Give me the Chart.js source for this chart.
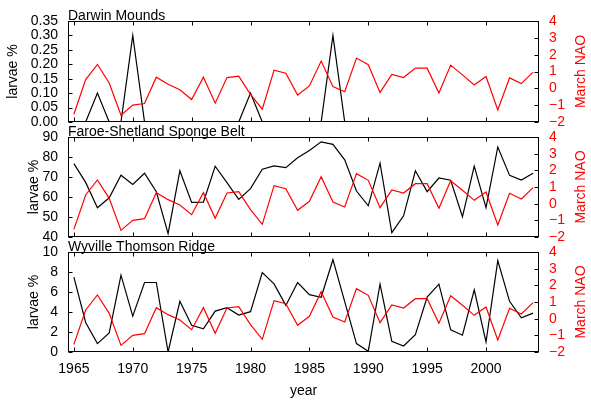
<!DOCTYPE html>
<html>
<head>
<meta charset="utf-8">
<title>Larvae vs March NAO</title>
<script src="https://cdn.jsdelivr.net/npm/chart.js@4.4.0/dist/chart.umd.min.js"></script>
<style>
  html, body { margin: 0; padding: 0; background: #ffffff; }
  #wrap { position: relative; width: 591px; height: 403px; }
  #wrap canvas { position: absolute; left: 0; top: 0; }
</style>
</head>
<body>
<div id="wrap">
  <canvas id="darwinChart" width="591" height="403"></canvas>
  <canvas id="faroeChart" width="591" height="403"></canvas>
  <canvas id="wyvilleChart" width="591" height="403"></canvas>
</div>
<script>
"use strict";

// Data
const years = [
  1965, 1966, 1967, 1968, 1969, 1970, 1971, 1972, 1973, 1974,
  1975, 1976, 1977, 1978, 1979, 1980, 1981, 1982, 1983, 1984,
  1985, 1986, 1987, 1988, 1989, 1990, 1991, 1992, 1993, 1994,
  1995, 1996, 1997, 1998, 1999, 2000, 2001, 2002, 2003, 2004,
];

const marchNao = [
  -1.54, 0.52, 1.42, 0.32, -1.6, -1.0, -0.9, 0.66, 0.24, -0.08,
  -0.66, 0.66, -0.88, 0.64, 0.72, -0.36, -1.24, 1.08, 0.9, -0.4,
  0.14, 1.62, 0.1, -0.2, 1.8, 1.4, -0.24, 0.82, 0.64, 1.2,
  1.2, -0.28, 1.38, 0.8, 0.2, 0.7, -1.28, 0.62, 0.28, 0.96,
];

const darwinMounds = [
  0, 0, 0.1, 0, 0, 0.3, 0, 0, 0, 0,
  0, 0, 0, 0, 0, 0.1, 0, 0, 0, 0,
  0, 0, 0.3, 0, 0, 0, 0, 0, 0, 0,
  0, 0, 0, 0, 0, 0, 0, 0, 0, 0,
];

const faroeShetland = [
  76.7, 67.3, 54.6, 59.6, 70.9, 66.3, 71.9, 62.6, 41.7, 73.1,
  57.3, 57.4, 75.4, 67.2, 58.8, 64.2, 73.9, 75.6, 74.7, 79.6,
  83.3, 87.6, 86.3, 78.6, 63.0, 55.6, 76.9, 42.2, 50.6, 73.1,
  62.7, 69.5, 68.4, 50.1, 75.4, 54.7, 85.0, 70.8, 68.5, 71.9,
];

const wyvilleThomson = [
  7.48, 2.95, 0.84, 1.91, 7.68, 3.59, 6.95, 6.95, 0, 5.07,
  2.68, 2.32, 4.09, 4.43, 3.69, 4.03, 7.95, 6.81, 4.66, 6.95,
  5.74, 5.47, 9.23, 5.03, 0.84, 0.07, 6.78, 1.07, 0.6, 1.74,
  5.5, 6.78, 2.21, 1.68, 6.21, 1.0, 9.13, 5.07, 3.42, 3.89,
];

const yearTicks = [1965, 1970, 1975, 1980, 1985, 1990, 1995, 2000];
const naoTicks = [-2, -1, 0, 1, 2, 3, 4];
const darwinTicks = [0, 0.05, 0.1, 0.15, 0.2, 0.25, 0.3, 0.35];
const faroeTicks = [40, 50, 60, 70, 80, 90];
const wyvilleTicks = [0, 2, 4, 6, 8, 10];

const RED = "#ff0000";
const FONT = "'Liberation Sans', Arial, sans-serif";
const W = 591;
const H = 403;

Chart.defaults.font.family = FONT;
Chart.defaults.color = "#000000";

// box, inward ticks and the text MATLAB puts around each axes
const framePlugin = {
  id: "frame",
  afterDraw(chart, args, opts) {
    const { ctx, chartArea: a, scales } = chart;
    const L = Math.round(a.left) + 0.5;
    const R = Math.round(a.right) - 0.5;
    const T = Math.round(a.top) + 0.5;
    const B = Math.round(a.bottom) - 0.5;
    const tl = 4;

    ctx.save();
    ctx.strokeStyle = "#000000";
    ctx.lineWidth = 1;
    ctx.strokeRect(L, T, R - L, B - T);

    ctx.beginPath();
    yearTicks.forEach((v) => {
      const px = Math.round(scales.x.getPixelForValue(v)) + 0.5;
      ctx.moveTo(px, B);
      ctx.lineTo(px, B - tl);
      ctx.moveTo(px, T);
      ctx.lineTo(px, T + tl);
    });
    opts.leftTicks.forEach((v) => {
      const py = Math.round(scales.larvae.getPixelForValue(v)) + 0.5;
      ctx.moveTo(L, py);
      ctx.lineTo(L + tl, py);
    });
    naoTicks.forEach((v) => {
      const py = Math.round(scales.nao.getPixelForValue(v)) + 0.5;
      ctx.moveTo(R, py);
      ctx.lineTo(R - tl, py);
    });
    ctx.stroke();

    ctx.font = "14px " + FONT;
    ctx.fillStyle = "#000000";
    ctx.textAlign = "left";
    ctx.textBaseline = "alphabetic";
    ctx.fillText(opts.title, a.left, a.top - 1.5);

    const midY = (a.top + a.bottom) / 2;
    ctx.textAlign = "center";
    ctx.textBaseline = "middle";

    ctx.save();
    ctx.translate(opts.leftTitleX, midY);
    ctx.rotate(-Math.PI / 2);
    ctx.fillText("larvae %", 0, 0);
    ctx.restore();

    ctx.save();
    ctx.fillStyle = RED;
    ctx.translate(581.5, midY);
    ctx.rotate(-Math.PI / 2);
    ctx.fillText("March NAO", 0, 0);
    ctx.restore();

    if (opts.showYear) {
      ctx.fillText("year", (a.left + a.right) / 2, 391.5);
    }
    ctx.restore();
  },
};

function makePanel(canvasId, panel) {
  const canvas = document.getElementById(canvasId);
  const isBottom = !!panel.showYear;

  new Chart(canvas, {
    type: "line",
    data: {
      datasets: [
        {
          label: "March NAO",
          data: years.map((yr, i) => ({ x: yr, y: marchNao[i] })),
          yAxisID: "nao",
          borderColor: RED,
          borderWidth: 1.2,
          pointRadius: 0,
          tension: 0,
          order: 0,
        },
        {
          label: "larvae %",
          data: years.map((yr, i) => ({ x: yr, y: panel.values[i] })),
          yAxisID: "larvae",
          borderColor: "#000000",
          borderWidth: 1.2,
          pointRadius: 0,
          tension: 0,
          order: 1,
        },
      ],
    },
    options: {
      responsive: false,
      animation: false,
      events: [],
      layout: {
        padding: {
          top: panel.top,
          bottom: isBottom ? 0 : H - panel.bottom,
          left: 0,
          right: 0,
        },
      },
      plugins: {
        legend: { display: false },
        tooltip: { enabled: false },
        frame: {
          title: panel.title,
          leftTicks: panel.ticks,
          leftTitleX: panel.leftTitleX,
          showYear: isBottom,
        },
      },
      scales: {
        x: {
          type: "linear",
          min: 1964.5,
          max: 2004.5,
          display: isBottom,
          grid: { display: false, drawTicks: false },
          border: { display: false },
          afterBuildTicks: (s) => {
            s.ticks = yearTicks.map((v) => ({ value: v }));
          },
          afterFit: (s) => {
            s.height = isBottom ? H - panel.bottom : 0;
          },
          ticks: {
            padding: 9,
            maxRotation: 0,
            autoSkip: false,
            font: { size: 14 },
            color: "#000000",
            callback: (v) => String(v),
          },
        },
        larvae: {
          type: "linear",
          position: "left",
          min: panel.ticks[0],
          max: panel.ticks[panel.ticks.length - 1],
          grid: { display: false, drawTicks: false },
          border: { display: false },
          afterBuildTicks: (s) => {
            s.ticks = panel.ticks.map((v) => ({ value: v }));
          },
          afterFit: (s) => {
            s.width = 68;
          },
          ticks: {
            padding: 10,
            autoSkip: false,
            font: { size: 14 },
            color: "#000000",
            callback: panel.format,
          },
        },
        nao: {
          type: "linear",
          position: "right",
          min: -2,
          max: 4,
          grid: { display: false, drawTicks: false },
          border: { display: false },
          afterBuildTicks: (s) => {
            s.ticks = naoTicks.map((v) => ({ value: v }));
          },
          afterFit: (s) => {
            s.width = W - 539;
          },
          ticks: {
            padding: 10,
            autoSkip: false,
            font: { size: 14 },
            color: RED,
            callback: (v) => (v < 0 ? "\u2212" + Math.abs(v) : String(v)),
          },
        },
      },
    },
    plugins: [framePlugin],
  });
}

makePanel("darwinChart", {
  title: "Darwin Mounds",
  values: darwinMounds,
  ticks: darwinTicks,
  format: (v) => v.toFixed(2),
  top: 21,
  bottom: 122,
  leftTitleX: 13,
});

makePanel("faroeChart", {
  title: "Faroe-Shetland Sponge Belt",
  values: faroeShetland,
  ticks: faroeTicks,
  format: (v) => String(v),
  top: 137,
  bottom: 237,
  leftTitleX: 34,
});

makePanel("wyvilleChart", {
  title: "Wyville Thomson Ridge",
  values: wyvilleThomson,
  ticks: wyvilleTicks,
  format: (v) => String(v),
  top: 252,
  bottom: 352,
  leftTitleX: 34,
  showYear: true,
});
</script>
</body>
</html>
